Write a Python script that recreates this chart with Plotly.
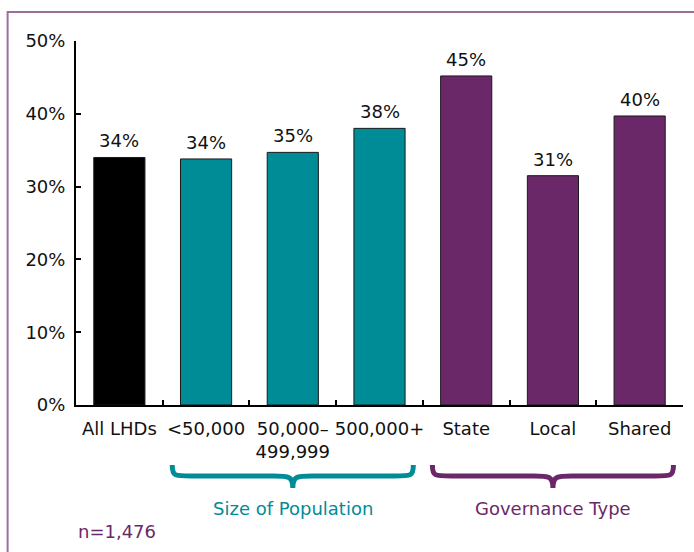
import plotly.graph_objects as go

categories = ["All LHDs", "<50,000", "50,000–<br>499,999", "500,000+", "State", "Local", "Shared"]
values = [34.0, 33.8, 34.7, 38.0, 45.2, 31.5, 39.7]
labels = ["34%", "34%", "35%", "38%", "45%", "31%", "40%"]
y_ticks = [0, 10, 20, 30, 40, 50]
y_ticklabels = ["0%", "10%", "20%", "30%", "40%", "50%"]
group_names = ["Size of Population", "Governance Type"]
group_spans = [(0.61, 3.39), (3.61, 6.39)]
note = "n=1,476"

BLACK = "#000000"
TEAL = "#008C96"
PURPLE = "#6B2868"
BORDER = "#9B6E9B"
colors = [BLACK, TEAL, TEAL, TEAL, PURPLE, PURPLE, PURPLE]
group_colors = [TEAL, PURPLE]
FONT = "DejaVu Sans, sans-serif"
FS = 18

fig = go.Figure()
fig.add_trace(go.Bar(
    x=categories, y=values, width=0.59,
    marker=dict(color=colors, line=dict(color="#1a1a1a", width=1)),
    hoverinfo="skip",
))

L, R, T, B = 75.5, 10.5, 41, 147
W, H = 694, 552
pw, ph = W - L - R, H - T - B

def py(pix):
    return (H - B - pix) / ph

shapes = []
# frame border (top and left visible)
shapes.append(dict(type="path", xref="paper", yref="paper",
                   path=f"M {(7-L)/pw},{py(H+50)} L {(7-L)/pw},{py(12)} L {(W+50-L)/pw},{py(12)}",
                   line=dict(color=BORDER, width=2)))

def brace(x0, x1, ytop, ymid, ytip):
    xc = (x0 + x1) / 2
    a = py(ytop); m = py(ymid); t = py(ytip)
    d = 0.22
    p = (f"M {x0},{a} C {x0},{m} {x0+0.02},{m} {x0+d},{m} "
         f"L {xc-d},{m} C {xc-0.05},{m} {xc},{m} {xc},{t} "
         f"C {xc},{m} {xc+0.05},{m} {xc+d},{m} "
         f"L {x1-d},{m} C {x1-0.02},{m} {x1},{m} {x1},{a}")
    return p

annotations = []
# value labels above bars
for c, v, t in zip(categories, values, labels):
    annotations.append(dict(x=c, y=v, xref="x", yref="y", text=t, showarrow=False,
                            yanchor="bottom", yshift=4,
                            font=dict(size=FS, color="#111111", family=FONT)))

for (x0, x1), name, col in zip(group_spans, group_names, group_colors):
    shapes.append(dict(type="path", xref="x", yref="paper",
                       path=brace(x0, x1, 465, 476, 488),
                       line=dict(color=col, width=5)))
    annotations.append(dict(x=(x0 + x1) / 2, y=py(509), xref="x", yref="paper",
                            text=name, showarrow=False,
                            font=dict(size=FS, color=col, family=FONT),
                            xanchor="center", yanchor="middle"))

annotations.append(dict(x=(76 - L) / pw, y=py(531), xref="paper", yref="paper",
                        text=note, showarrow=False,
                        font=dict(size=FS, color=PURPLE, family=FONT),
                        xanchor="left", yanchor="middle"))

fig.update_layout(
    width=W, height=H,
    margin=dict(l=L, r=R, t=T, b=B, pad=0),
    paper_bgcolor="white", plot_bgcolor="white",
    showlegend=False, bargap=0.41,
    font=dict(family=FONT, size=FS, color="#111111"),
    shapes=shapes, annotations=annotations,
    xaxis=dict(type="category", tickson="boundaries", ticks="inside", ticklen=5,
               tickwidth=1.5, tickcolor=BLACK, showline=True, linecolor=BLACK,
               linewidth=2, showgrid=False, zeroline=False, tickangle=0,
               ticklabelstandoff=6,
               tickfont=dict(size=FS, color="#111111", family=FONT),
               range=[-0.5, 6.5]),
    yaxis=dict(range=[0, 50], tickvals=y_ticks, ticktext=y_ticklabels,
               ticks="inside", ticklen=5, tickwidth=2, tickcolor=BLACK,
               showline=True, linecolor=BLACK, linewidth=2, showgrid=False,
               zeroline=False, ticklabelstandoff=5,
               tickfont=dict(size=FS, color="#111111", family=FONT)),
)

fig.write_html("out.html", config={"displayModeBar": False},
               post_script="document.body.style.margin='0';document.body.style.overflow='hidden';")
